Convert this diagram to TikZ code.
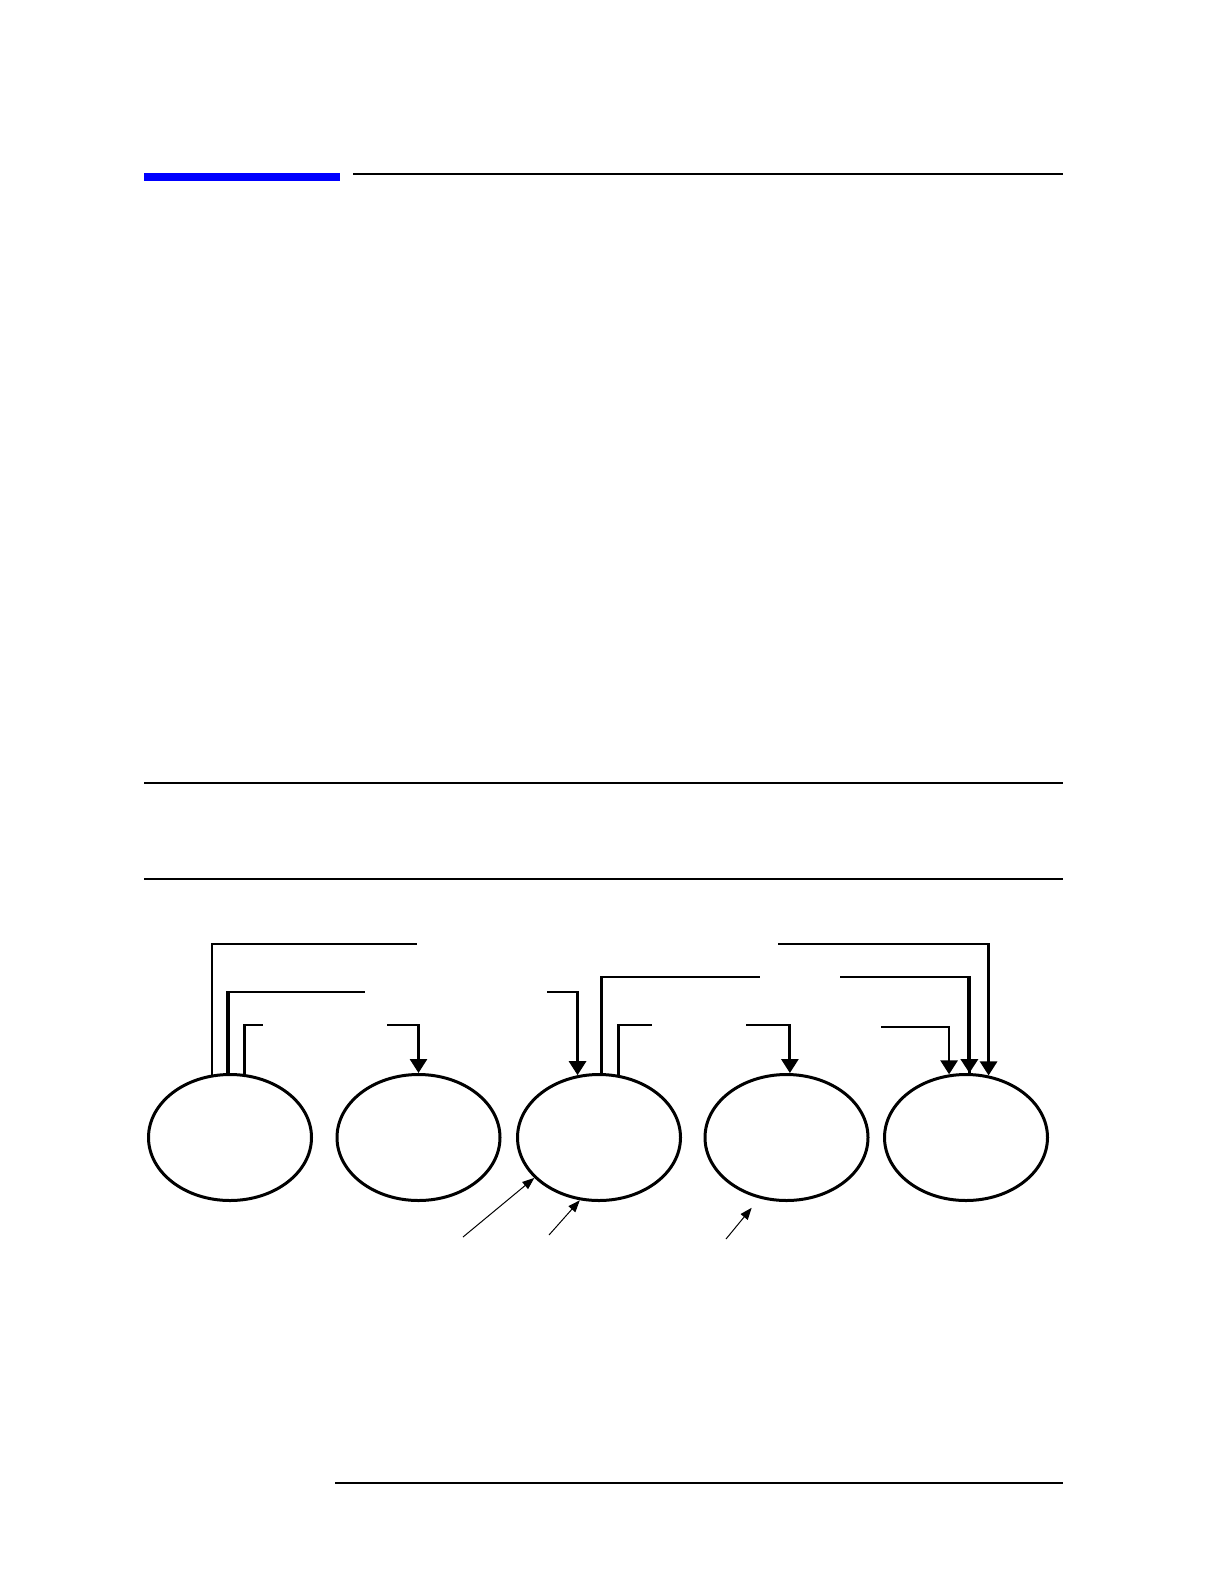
\documentclass[tikz,border=0pt]{standalone}
\usepackage{xcolor}
\usepackage{tikz}
\usetikzlibrary{positioning, arrows.meta, shapes.geometric}

\begin{document}
\begin{tikzpicture}[
    x=0.5pt, y=-0.5pt,
    oval/.style={ellipse, draw, line width=1.5pt, inner sep=0pt, minimum width=81.5pt, minimum height=63pt},
    link/.style={line width=1.4pt},
    boldlink/.style={line width=1.9pt},
    arrow/.style={line width=1.4pt, -{Triangle[width=8.5pt, length=7pt]}},
    boldarrow/.style={line width=1.9pt, -{Triangle[width=8.5pt, length=7pt]}},
    thinarrow/.style={line width=0.5pt, -{Triangle[width=4.5pt, length=6pt]}},
    rule/.style={line width=1pt}
]
\useasboundingbox (0,0) rectangle (1224,1584);

% page rules
\fill[blue] (144,173) rectangle (340,181);
\draw[rule] (353,174) -- (1063,174);
\draw[rule] (144,783) -- (1063,783);
\draw[rule] (144,879) -- (1063,879);
\draw[rule] (335,1483) -- (1063,1483);

\node[oval] (e1) at (230,1137.5) {};
\node[oval] (e2) at (418.5,1137.5) {};
\node[oval] (e3) at (599,1137.5) {};
\node[oval] (e4) at (786.5,1137.5) {};
\node[oval] (e5) at (966,1137.5) {};

\coordinate (c1) at (417,944);
\coordinate (c2) at (365,992);
\coordinate (c3) at (263,1025);
\coordinate (c4) at (387,1025);
\coordinate (c5) at (547,992);
\coordinate (c6) at (760,977);
\coordinate (c7) at (652,1025);
\coordinate (c8) at (746,1025);
\coordinate (c9) at (778,944);
\coordinate (c10) at (840,977);
\coordinate (c11) at (881,1027);

\coordinate (d1) at (463,1237);
\coordinate (d2) at (549,1235);
\coordinate (d3) at (726,1239);

\draw[link] (e1.106) |- (c1);
\draw[link] (e1.92) |- (c2);
\draw[boldlink] (e1.92) -- (e1.92 |- c2);
\draw[link] (e1.77) |- (c3);
\draw[arrow] (c4) -| (e2.north);

\draw[arrow] (c5) -| (e3.109);
\draw[link] (e3.88) |- (c6);
\draw[link] (e3.73) |- (c7);
\draw[arrow] (c8) -| (e4.87);

\draw[arrow] (c9) -| (e5.70);
\draw[link] (c10) -| (e5.87);
\draw[boldarrow] (c10 -| e5.87) -- (e5.87);
\draw[arrow] (c11) -| (e5.105);

\draw[thinarrow] (d1) -- (e3.212);
\draw[thinarrow] (d2) -- (e3.253);
\draw[thinarrow, shorten >=6pt] (d3) -- (e4.246);

\end{tikzpicture}
\end{document}
